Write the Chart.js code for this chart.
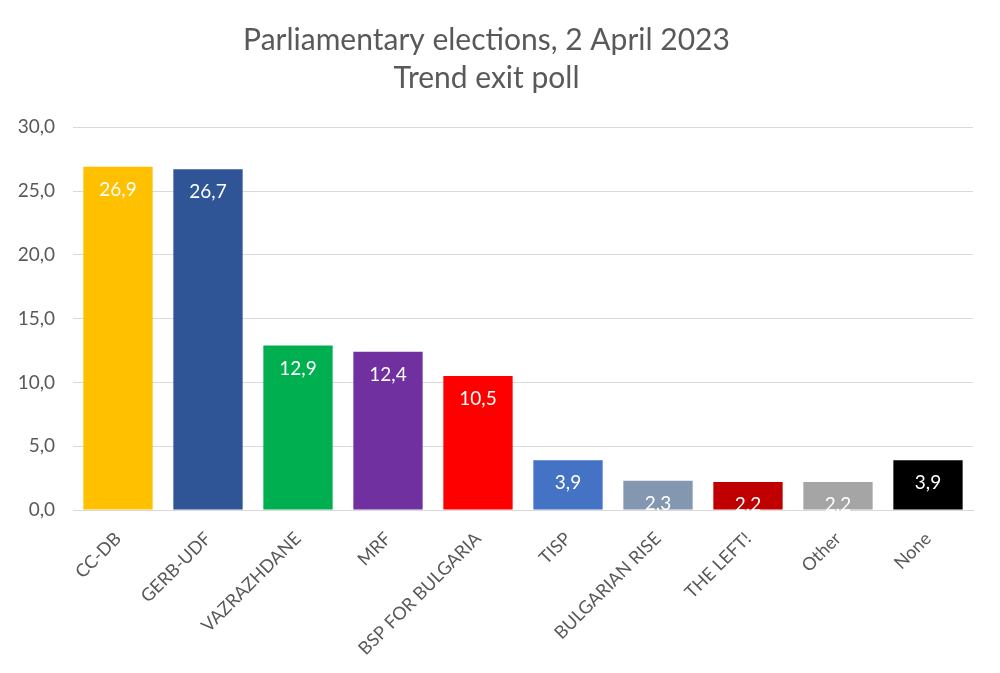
<!DOCTYPE html>
<html>
<head>
<meta charset="utf-8">
<script src="https://cdn.jsdelivr.net/npm/chart.js@4"></script>
<style>
  html, body { margin: 0; padding: 0; background: #fff; }
  #wrap { width: 1000px; height: 673px; }
</style>
</head>
<body>
<div id="wrap"><canvas id="poll-chart" width="1000" height="673"></canvas></div>
<script>
const parties = ['CC-DB', 'GERB-UDF', 'VAZRAZHDANE', 'MRF', 'BSP FOR BULGARIA',
    'TISP', 'BULGARIAN RISE', 'THE LEFT!', 'Other', 'None'];
const shares = [26.9, 26.7, 12.9, 12.4, 10.5, 3.9, 2.3, 2.2, 2.2, 3.9];
const barColors = ['#FFC000', '#2F5597', '#00B050', '#7030A0', '#FF0000',
    '#4472C4', '#8497B0', '#C00000', '#A5A5A5', '#000000'];
const yTicks = [0, 5, 10, 15, 20, 25, 30];

const fmt = v => v.toFixed(1).replace('.', ',');
const font = "Lato, 'Open Sans', sans-serif";

// values written inside the top of each bar
const barLabels = {
    id: 'barLabels',
    afterDatasetsDraw(chart) {
        const ctx = chart.ctx;
        const meta = chart.getDatasetMeta(0);
        ctx.save();
        ctx.fillStyle = '#ffffff';
        ctx.font = '19px ' + font;
        ctx.textAlign = 'center';
        ctx.textBaseline = 'middle';
        meta.data.forEach((bar, i) => {
            ctx.fillText(fmt(shares[i]), bar.x, bar.y + 23);
        });
        ctx.restore();
    }
};

const ctx = document.getElementById('poll-chart').getContext('2d');
new Chart(ctx, {
    type: 'bar',
    data: {
        labels: parties,
        datasets: [{
            data: shares,
            backgroundColor: barColors,
            borderWidth: 0,
            categoryPercentage: 1,
            barPercentage: 0.77
        }]
    },
    options: {
        responsive: false,
        animation: false,
        layout: { padding: { left: 0, right: 27, top: 0, bottom: 0 } },
        plugins: {
            legend: { display: false },
            tooltip: { enabled: false },
            title: {
                display: true,
                text: ['Parliamentary elections, 2 April 2023', 'Trend exit poll'],
                color: '#595959',
                font: { family: font, size: 30, weight: 'normal', lineHeight: 1.27 },
                padding: { top: 21, bottom: 30 }
            }
        },
        scales: {
            x: {
                grid: { display: false },
                border: { display: true, color: '#d9d9d9', width: 1 },
                ticks: {
                    color: '#595959',
                    font: { family: font, size: 18 },
                    maxRotation: 45,
                    minRotation: 45,
                    padding: 10
                },
                afterFit(scale) { scale.height = 163; }
            },
            y: {
                min: 0,
                max: 30,
                afterBuildTicks(scale) { scale.ticks = yTicks.map(v => ({ value: v })); },
                grid: { color: '#d9d9d9', drawTicks: false },
                border: { display: false },
                ticks: {
                    color: '#595959',
                    font: { family: font, size: 19 },
                    padding: 18,
                    callback: v => fmt(v)
                },
                afterFit(scale) { scale.width = 73; }
            }
        }
    },
    plugins: [barLabels]
});
</script>
</body>
</html>
